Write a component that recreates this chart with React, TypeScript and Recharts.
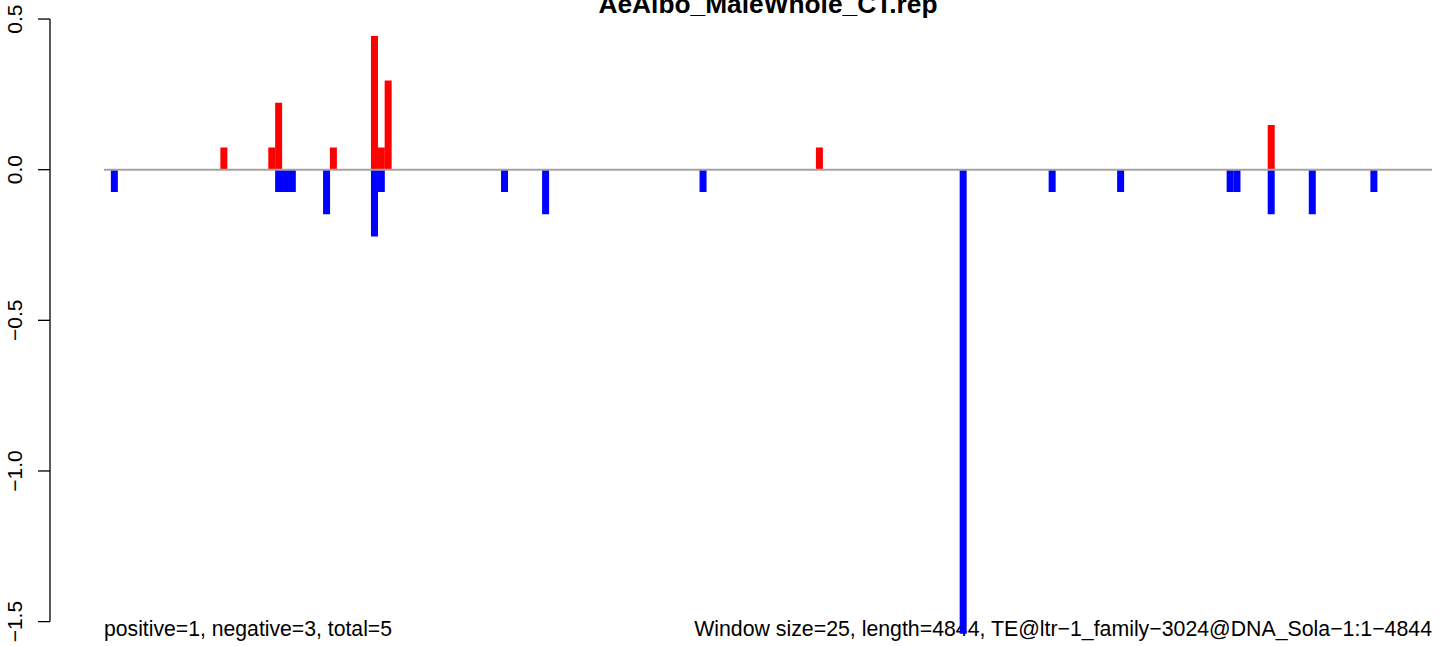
import React from 'react';
import { BarChart, Bar, XAxis, YAxis, ReferenceLine } from 'recharts';

const TITLE = 'AeAlbo_MaleWhole_CT.rep';
const SUMMARY = 'positive=1, negative=3, total=5';
const INFO = 'Window size=25, length=4844, TE@ltr\u22121_family\u22123024@DNA_Sola\u22121:1\u22124844';

const WINDOW_COUNT = 194;
const windows = Array.from({ length: WINDOW_COUNT }, (_, i) => i + 1);

const positiveWindows = [18, 25, 26, 34, 40, 41, 42, 105, 171];
const positiveValues = [0.074, 0.074, 0.222, 0.074, 0.444, 0.074, 0.296, 0.074, 0.148];

const negativeWindows = [2, 26, 27, 28, 33, 40, 41, 59, 65, 88, 126, 139, 149, 165, 166, 171, 177, 186];
const negativeValues = [
  -0.074, -0.074, -0.074, -0.074, -0.148, -0.222, -0.074, -0.074, -0.148, -0.074,
  -1.54, -0.074, -0.074, -0.074, -0.074, -0.148, -0.148, -0.074,
];

const yTicks = [0.5, 0, -0.5, -1, -1.5];
const yTickLabels = ['0.5', '0.0', '\u22120.5', '\u22121.0', '\u22121.5'];
const Y_DOMAIN: [number, number] = [-1.56, 0.53];

const data = windows.map((w) => {
  const pi = positiveWindows.indexOf(w);
  const ni = negativeWindows.indexOf(w);
  return {
    window: w,
    pos: pi >= 0 ? positiveValues[pi] : 0,
    neg: ni >= 0 ? negativeValues[ni] : 0,
  };
});

const FONT = '"Liberation Sans", Arial, Helvetica, sans-serif';

function YTick(props: any) {
  const { y, payload, height } = props;
  const v = payload.value as number;
  const label = yTickLabels[yTicks.indexOf(v)];
  const isTop = v === yTicks[0];
  const span = yTicks[0] - yTicks[yTicks.length - 1];
  const pxPerUnit = typeof height === 'number' ? height / (Y_DOMAIN[1] - Y_DOMAIN[0]) : 0;
  return (
    <g>
      {isTop && pxPerUnit > 0 && (
        <line x1={50} x2={50} y1={y} y2={y + span * pxPerUnit} stroke="#000" strokeWidth={1.3} />
      )}
      <line x1={38} x2={50} y1={y} y2={y} stroke="#000" strokeWidth={1.3} />
      <text
        x={22}
        y={y}
        transform={`rotate(-90 22 ${y})`}
        textAnchor="middle"
        fontFamily={FONT}
        fontSize={21}
        fill="#000"
      >
        {label}
      </text>
    </g>
  );
}

export default function App() {
  return (
    <div style={{ position: 'absolute', left: 0, top: 0, width: 1444, height: 646, background: '#fff' }}>
      <svg
        width={1444}
        height={646}
        style={{ position: 'absolute', left: 0, top: 0 }}
        fontFamily={FONT}
      >
        <text x={768} y={12.5} textAnchor="middle" fontSize={26.3} fontWeight="bold" fill="#000">
          {TITLE}
        </text>
        <text x={104} y={636} textAnchor="start" fontSize={21.2} fill="#000">
          {SUMMARY}
        </text>
        <text x={1432} y={636} textAnchor="end" fontSize={21.3} fill="#000">
          {INFO}
        </text>
      </svg>
      <div style={{ position: 'absolute', left: 0, top: 0 }}>
        <BarChart
          width={1444}
          height={646}
          data={data}
          stackOffset="sign"
          barCategoryGap={0}
          barGap={0}
          margin={{ top: 10, right: 12, bottom: 6.3, left: 44 }}
        >
          <XAxis dataKey="window" hide />
          <YAxis
            width={60}
            domain={Y_DOMAIN}
            allowDataOverflow
            ticks={yTicks}
            interval={0}
            axisLine={false}
            tickLine={false}
            tick={YTick}
          />
          <ReferenceLine y={0} stroke="#A3A3A3" strokeWidth={2} />
          <Bar dataKey="pos" stackId="s" fill="#FF0000" isAnimationActive={false} />
          <Bar dataKey="neg" stackId="s" fill="#0000FF" isAnimationActive={false} />
        </BarChart>
      </div>
    </div>
  );
}
